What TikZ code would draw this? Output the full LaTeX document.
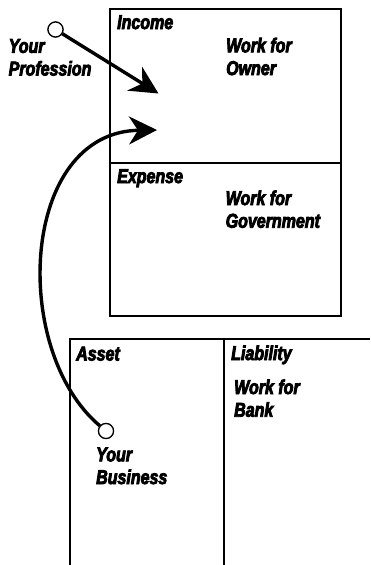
\documentclass[tikz,border=0pt]{standalone}
\usepackage{fontspec}
\newfontfamily\labfont[FakeStretch=0.8,FakeBold=4]{Liberation Sans}
\usetikzlibrary{arrows.meta}
\tikzset{
  lab/.style={anchor=base west, inner sep=0pt, align=left,
    font=\labfont\bfseries\itshape\fontsize{20}{22.7}\selectfont},
  boxline/.style={line width=1.2pt},
  bigarrow/.style={line width=3.4pt, -{Stealth[length=28pt,width=28pt,inset=9pt]}},
  dot/.style={circle, draw, fill=white, line width=1.2pt, minimum size=15pt, inner sep=0pt}
}
\begin{document}
\begin{tikzpicture}[x=1pt,y=-1pt]
\useasboundingbox (0,0) rectangle (370,565);
% top box
\draw[boxline] (110,9) rectangle (341,316);
\draw[boxline] (110,163) -- (341,163);
% bottom box
\draw[boxline] (70,565) -- (70,339) -- (370,339);
\draw[boxline] (224,339) -- (224,565);
% texts (two-line nodes are placed by the baseline of their last line)
\node[lab] (inc) at (117,29) {Income};
\node[lab] (wo) at (226,75) {Work for\\Owner};
\node[lab] (exp) at (117,183) {Expense};
\node[lab] (wg) at (225.5,227.7) {Work for\\Government};
\node[lab] (ast) at (76,360.5) {Asset};
\node[lab] (lia) at (231,360) {Liability};
\node[lab] (wb) at (234,416.7) {Work for\\Bank};
\node[lab] (yp) at (8.5,75.5) {Your\\Profession};
\node[lab] (yb) at (96,484) {Your\\Business};
% circles
\node[dot] (p) at (55.5,29.5) {};
\node[dot] (b) at (106,431) {};
\coordinate (ta) at (158.5,93.5);
\coordinate (tb) at (157,130);
% arrows
\draw[bigarrow] (p) -- (ta);
\draw[bigarrow] (b) .. controls (10,350) and (20,132) .. (tb);
\node[dot] at (p) {};
\node[dot] at (b) {};
\end{tikzpicture}
\end{document}
